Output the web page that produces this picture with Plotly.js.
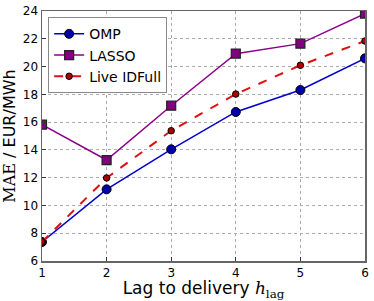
<!DOCTYPE html>
<html><head><meta charset="utf-8">
<script src="https://cdn.plot.ly/plotly-3.0.1.min.js"></script>
<style>html,body{margin:0;padding:0;background:#fff}#c{width:374px;height:301px}</style>
</head><body><div id="c"></div>
<script>
var lags = [1, 2, 3, 4, 5, 6];
var ompMAE = [7.37, 11.16, 14.04, 16.73, 18.31, 20.59];
var lassoMAE = [15.82, 13.27, 17.18, 20.93, 21.65, 23.81];
var liveMAE = [7.37, 11.98, 15.38, 18.02, 20.09, 21.84];
var xTicks = [1, 2, 3, 4, 5, 6];
var yTicks = [6, 8, 10, 12, 14, 16, 18, 20, 22, 24];

var traces = [
  {x: lags, y: ompMAE, name: 'OMP', mode: 'lines+markers',
   line: {color: '#0000cc', width: 1.5},
   marker: {symbol: 'circle', size: 9, color: '#0000aa', line: {color: '#000', width: 1}}},
  {x: lags, y: lassoMAE, name: 'LASSO', mode: 'lines+markers',
   line: {color: '#8b008b', width: 1.5},
   marker: {symbol: 'square', size: 9, color: '#800080', line: {color: '#222', width: 1.2}}},
  {x: lags, y: liveMAE, name: 'Live IDFull', mode: 'lines+markers',
   line: {color: '#dd1111', width: 2, dash: 'dash'},
   marker: {symbol: 'circle', size: 6.5, color: '#aa0000', line: {color: '#000', width: 1}}}
];

var layout = {
  width: 374, height: 301,
  margin: {l: 42, r: 9, t: 11, b: 40},
  paper_bgcolor: '#fff', plot_bgcolor: '#fff',
  font: {family: 'DejaVu Sans', size: 12, color: '#000'},
  showlegend: true,
  legend: {x: 0.019, y: 0.975, xanchor: 'left', yanchor: 'top',
    bgcolor: '#fff', bordercolor: '#888', borderwidth: 1,
    font: {family: 'DejaVu Sans', size: 14}, tracegroupgap: 0},
  xaxis: {range: [1, 6], tickvals: xTicks, ticktext: xTicks.map(String),
    showgrid: true, gridcolor: '#aaa', griddash: 'dot', gridwidth: 1,
    zeroline: false, showline: true, linecolor: '#666', linewidth: 1.5, mirror: true,
    ticks: 'inside', ticklen: 4, tickcolor: '#333',
    tickfont: {size: 12},
    title: {text: 'Lag to delivery <span style="font-family:DejaVu Serif;font-style:italic">h</span><sub><span style="font-family:DejaVu Serif">lag</span></sub>',
      font: {size: 17}, standoff: 4}},
  yaxis: {range: [6, 24], tickvals: yTicks, ticktext: yTicks.map(String),
    showgrid: true, gridcolor: '#aaa', griddash: 'dot', gridwidth: 1,
    zeroline: false, showline: true, linecolor: '#666', linewidth: 1.5, mirror: true,
    ticks: 'inside', ticklen: 4, tickcolor: '#333',
    tickfont: {size: 12},
    title: {text: '<span style="font-family:DejaVu Serif">MAE</span> / EUR/MWh',
      font: {size: 16}, standoff: 4}}
};

Plotly.newPlot('c', traces, layout, {displayModeBar: false, staticPlot: true});
</script></body></html>
